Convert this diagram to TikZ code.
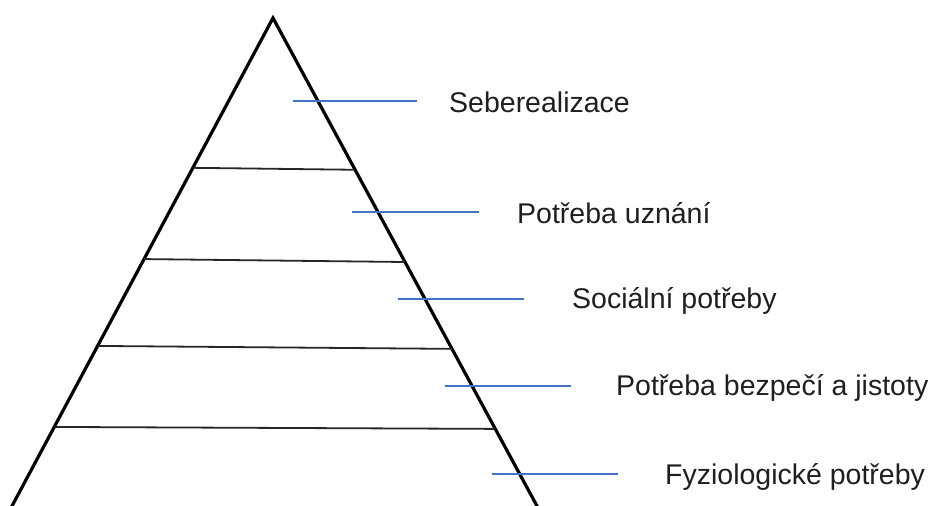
\documentclass[tikz,border=0pt]{standalone}
\usepackage{fontspec}
\setmainfont{Liberation Sans}
\usetikzlibrary{positioning,calc}
\definecolor{pointerblue}{RGB}{68,114,196}

\begin{document}
\begin{tikzpicture}[x=1pt,y=-1pt,
		side/.style={line width=3.2pt,line cap=round,line join=miter},
		level/.style={line width=1.8pt,black!85},
		pointer/.style={line width=1.6pt,pointerblue},
		need/.style={anchor=west,inner sep=0pt,text=black!88,font=\fontsize{28.5}{34}\selectfont}]
		
		\useasboundingbox (0,0) rectangle (932,506);
		
		% pyramid
		\coordinate (top) at (273,18);
		\coordinate (bl) at (12,506);
		\coordinate (br) at (537,506);
		\clip (0,0) rectangle (932,506);
		\draw[side] ($(top)!1.03!(bl)$) -- (top) -- ($(top)!1.03!(br)$);
		
		% levels
		\draw[level]
		($(top)!0.307!(bl)$) -- ($(top)!0.311!(br)$);
		\draw[level]
		($(top)!0.494!(bl)$) -- ($(top)!0.500!(br)$);
		\draw[level]
		($(top)!0.672!(bl)$) -- ($(top)!0.678!(br)$);
		\draw[level]
		($(top)!0.838!(bl)$) -- ($(top)!0.842!(br)$);
		
		% labels
		\node[need] (N5) at (449,102) {Seberealizace};
		\node[need] (N4) at (517,213) {Potřeba uznání};
		\node[need] (N3) at (572,301) {Sociální potřeby};
		\node[need] (N2) at (616,388) {Potřeba bezpečí a jistoty};
		\node[need] (N1) at (665,477) {Fyziologické potřeby};
		
		\coordinate (a5) at (293,101);
		\coordinate (b5) at (417,101);
		\coordinate (a4) at (352,212);
		\coordinate (b4) at (479,212);
		\coordinate (a3) at (398,299);
		\coordinate (b3) at (524,299);
		\coordinate (a2) at (445,386);
		\coordinate (b2) at (571,386);
		\coordinate (a1) at (492,474);
		\coordinate (b1) at (618,474);
		
		\foreach \i in {1,...,5}
		\draw[pointer] (a\i) -- (b\i);
		
	\end{tikzpicture}
\end{document}
